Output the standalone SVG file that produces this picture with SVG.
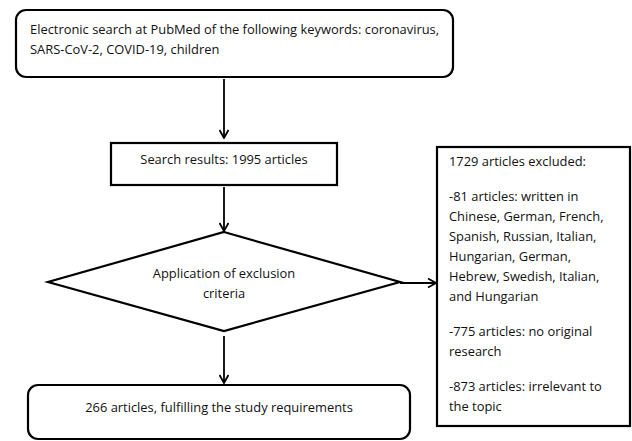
<svg xmlns="http://www.w3.org/2000/svg" width="632" height="441" viewBox="0 0 632 441">
<style>
.box{fill:#fff;stroke:#000;stroke-width:2.2}
.t{font-family:"Open Sans","Liberation Sans",sans-serif;font-size:12.9px;fill:#111}
.c{text-anchor:middle}
.ln{stroke:#000;stroke-width:1.8;fill:none}
</style>
<defs>
<marker id="ah" viewBox="0 0 10 10" refX="9" refY="5" markerWidth="10" markerHeight="10" markerUnits="userSpaceOnUse" orient="auto">
<path d="M1,0.5 L9,5 L1,9.5" fill="none" stroke="#000" stroke-width="1.8"/>
</marker>
</defs>
<rect width="632" height="441" fill="#fff"/>
<g id="n1">
<rect class="box" x="16" y="10" width="437" height="67" rx="10"/>
<text class="t" x="30" y="34">Electronic search at PubMed of the following keywords: coronavirus,</text>
<text class="t" x="30" y="54">SARS-CoV-2, COVID-19, children</text>
</g>
<g id="n2">
<rect class="box" x="111" y="143" width="226" height="42"/>
<text class="t c" x="224" y="164">Search results: 1995 articles</text>
</g>
<g id="n3">
<polygon class="box" points="224,232 400,282 224,331 48,282"/>
<text class="t c" x="224" y="278">Application of exclusion</text>
<text class="t c" x="224" y="298">criteria</text>
</g>
<g id="n4">
<rect class="box" x="437" y="147" width="193" height="279"/>
<text class="t" x="449" y="166">1729 articles excluded:</text>
<text class="t" x="449" y="201">-81 articles: written in</text>
<text class="t" x="449" y="221">Chinese, German, French,</text>
<text class="t" x="449" y="241">Spanish, Russian, Italian,</text>
<text class="t" x="449" y="261">Hungarian, German,</text>
<text class="t" x="449" y="281">Hebrew, Swedish, Italian,</text>
<text class="t" x="449" y="301">and Hungarian</text>
<text class="t" x="449" y="336">-775 articles: no original</text>
<text class="t" x="449" y="356">research</text>
<text class="t" x="449" y="391">-873 articles: irrelevant to</text>
<text class="t" x="449" y="411">the topic</text>
</g>
<g id="n5">
<rect class="box" x="28" y="385" width="382" height="54" rx="10"/>
<text class="t c" x="219" y="412">266 articles, fulfilling the study requirements</text>
</g>
<g id="connectors">
<line class="ln" x1="224" y1="79" x2="224" y2="138" marker-end="url(#ah)"/>
<line class="ln" x1="224" y1="187" x2="224" y2="231" marker-end="url(#ah)"/>
<line class="ln" x1="400" y1="283" x2="436" y2="283" marker-end="url(#ah)"/>
<line class="ln" x1="224" y1="336" x2="224" y2="383" marker-end="url(#ah)"/>
</g>
</svg>
